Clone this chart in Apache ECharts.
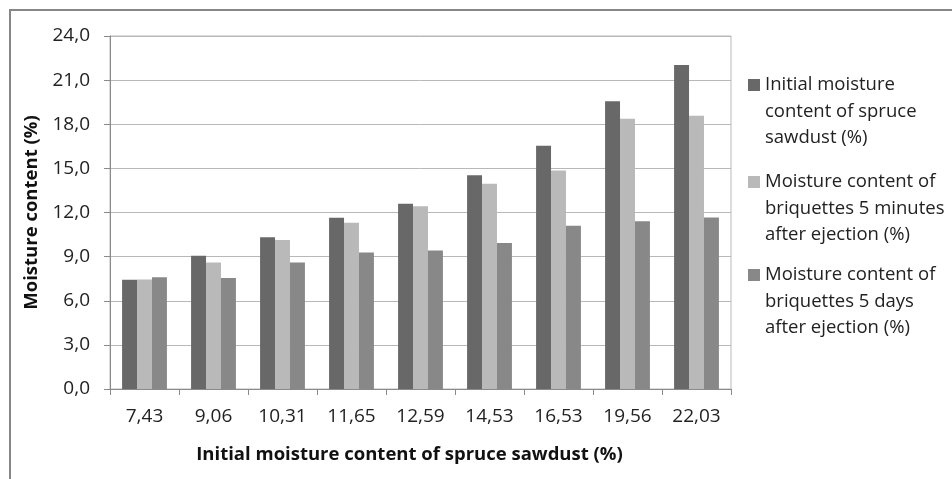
<!DOCTYPE html>
<html>
<head>
<meta charset="utf-8">
<script src="https://cdn.jsdelivr.net/npm/echarts@6/dist/echarts.min.js"></script>
<style>html,body{margin:0;padding:0;background:#fff}#c{width:952px;height:479px}</style>
</head>
<body>
<div id="c"></div>
<script>
const categories = ['7,43', '9,06', '10,31', '11,65', '12,59', '14,53', '16,53', '19,56', '22,03'];
const initialMoisture = [7.43, 9.06, 10.31, 11.65, 12.59, 14.53, 16.53, 19.56, 22.03];
const after5Minutes = [7.45, 8.60, 10.13, 11.30, 12.43, 13.96, 14.86, 18.37, 18.57];
const after5Days = [7.60, 7.54, 8.60, 9.28, 9.42, 9.92, 11.10, 11.40, 11.66];
const seriesNames = [
  'Initial moisture\ncontent of spruce\nsawdust (%)',
  'Moisture content of\nbriquettes 5 minutes\nafter ejection (%)',
  'Moisture content of\nbriquettes 5 days\nafter ejection (%)'
];
const colors = ['#686868', '#b9b9b9', '#888888'];
const FONT = '"Open Sans", "Noto Sans", sans-serif';

const chart = echarts.init(document.getElementById('c'));
const LH = 26.5;
const legendTops = [85, 182, 275];
const legends = seriesNames.map((n, i) => ({
  data: [n],
  orient: 'vertical',
  left: 748,
  top: legendTops[i] - 2.5 * LH,
  padding: 0,
  itemWidth: 12,
  itemHeight: 12,
  icon: 'rect',
  selectedMode: false,
  formatter: name => '\n\n' + name,
  textStyle: { fontFamily: FONT, fontSize: 18.5, color: '#222', lineHeight: LH }
}));
const seriesData = [initialMoisture, after5Minutes, after5Days];
chart.setOption({
  animation: false,
  color: colors,
  textStyle: { fontFamily: FONT },
  graphic: [{
    type: 'rect', shape: { x: 10, y: 10, width: 1200, height: 1200 },
    style: { fill: 'none', stroke: '#878787', lineWidth: 2 }, silent: true
  }],
  legend: legends,
  grid: { left: 110, right: 221, top: 36, bottom: 90, show: true, borderColor: '#b8b8b8', borderWidth: 1, backgroundColor: 'transparent' },
  xAxis: {
    type: 'category',
    data: categories,
    name: 'Initial moisture content of spruce sawdust (%)',
    nameLocation: 'middle',
    nameGap: 56,
    nameTextStyle: { fontFamily: FONT, fontSize: 18.5, fontWeight: 'bold', color: '#111', lineHeight: 20, padding: [0, 22, 0, 0] },
    axisLine: { lineStyle: { color: '#8a8a8a', width: 1 } },
    axisTick: { show: true, length: 6, lineStyle: { color: '#8a8a8a' } },
    axisLabel: { fontFamily: FONT, fontSize: 19, color: '#222', margin: 17.5, lineHeight: 20 }
  },
  yAxis: {
    type: 'value',
    min: 0, max: 24, interval: 3,
    name: 'Moisture content (%)',
    nameLocation: 'middle',
    nameRotate: 90,
    nameGap: 63,
    nameTextStyle: { fontFamily: FONT, fontSize: 18.5, fontWeight: 'bold', color: '#111', lineHeight: 20 },
    axisLine: { show: true, lineStyle: { color: '#8a8a8a', width: 1 } },
    axisTick: { show: true, length: 6, lineStyle: { color: '#8a8a8a' } },
    axisLabel: { fontFamily: FONT, fontSize: 19, color: '#222', margin: 20, formatter: v => v.toFixed(1).replace('.', ',') },
    splitLine: { lineStyle: { color: '#b8b8b8', width: 1 } }
  },
  series: seriesNames.map((n, i) => ({
    name: n,
    type: 'bar',
    data: seriesData[i],
    barGap: '0%',
    barCategoryGap: '35%',
    itemStyle: { color: colors[i] }
  }))
});
</script>
</body>
</html>
